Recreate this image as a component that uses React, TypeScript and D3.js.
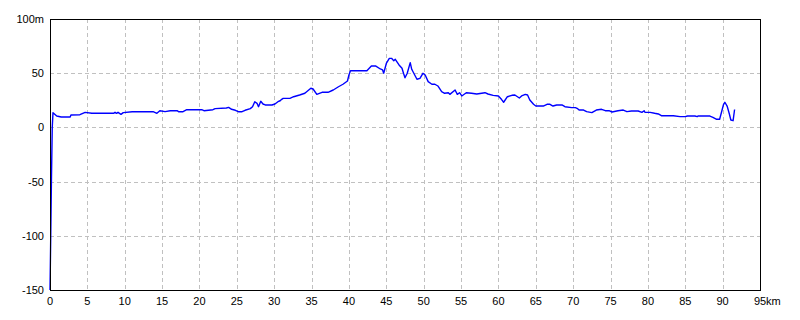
import React from "react";
import * as d3 from "d3";

const kmValues: number[] = [
  0, 0.1, 0.2, 0.3, 0.4, 0.9, 1.5, 2.7, 2.8, 4.0, 4.7, 5.6, 8.5, 8.7, 8.9, 9.1, 9.5, 9.8, 11.0, 13.8,
  14.3, 14.7, 15.4, 16.1, 17.0, 17.2, 17.8, 18.3, 20.3, 20.6, 21.8, 22.1, 23.6, 23.9, 24.3, 24.8, 25.2,
  25.7, 26.1, 26.8, 27.1, 27.4, 27.7, 27.9, 28.2, 28.5, 28.8, 29.7, 30.1, 30.5, 30.8, 31.0, 31.2, 32.1,
  32.6, 33.4, 34.1, 34.9, 35.2, 35.7, 36.4, 37.2, 37.9, 38.6, 39.2, 39.8, 40.0, 40.2, 42.4, 43.0, 43.6,
  44.2, 44.5, 44.65, 45.0, 45.4, 45.7, 46.0, 46.2, 46.7, 47.1, 47.3, 47.5, 47.8, 48.2, 48.4, 49.1, 49.5,
  49.9, 50.2, 50.6, 51.1, 51.5, 51.9, 52.4, 52.8, 53.3, 53.5, 54.2, 54.5, 54.8, 55.1, 55.7, 56.4, 57.1,
  58.2, 58.6, 59.3, 60.0, 60.4, 60.7, 61.2, 61.8, 62.2, 62.8, 63.1, 63.6, 63.9, 64.2, 64.7, 65.0, 66.0,
  66.5, 66.9, 67.3, 67.8, 68.5, 68.9, 69.8, 70.3, 70.6, 70.8, 71.4, 71.8, 72.5, 73.1, 73.8, 74.3, 74.8,
  75.2, 76.0, 76.7, 77.2, 77.8, 78.7, 79.2, 79.5, 79.6, 80.3, 80.9, 81.4, 81.8, 83.4, 84.3, 85.0, 85.3,
  86.3, 86.6, 86.7, 88.3, 88.7, 89.2, 89.6, 89.9, 90.1, 90.3, 90.6, 90.9, 91.1, 91.4, 91.6,
];

const elevationValues: number[] = [
  -150, -100, -45, 0, 13.6, 10.5, 9.6, 9.6, 11.4, 11.7, 13.9, 13, 13, 13.9, 13, 13.9, 12, 13.6, 14.5, 14.5,
  13, 15.4, 14.6, 15.4, 15.4, 14.5, 14.5, 16.3, 16.3, 15.4, 16.3, 17.3, 17.9, 18.5, 16.7, 15.8, 14.5,
  14.5, 15.8, 17.3, 19.1, 23.7, 22.2, 19.1, 24.1, 21.6, 20.7, 20.7, 21.6, 23.7, 24.6, 25.9, 26.8, 26.8,
  28.3, 29.9, 31.5, 36.1, 35.4, 30.5, 32.4, 32.4, 34.5, 37.5, 39.8, 42.8, 48.3, 52.3, 52.3, 56.6, 56.6,
  53.9, 53, 50, 59, 63.7, 63.7, 61.5, 62.8, 57.6, 54.5, 49.9, 45.8, 49.9, 59.7, 53.6, 44.4, 45.3,
  49.9, 48.3, 42.2, 39.8, 39.8, 38.2, 32.9, 31.5, 32.0, 30.5, 34.5, 30.5, 32, 29, 32, 31.5, 30.8,
  32, 30.8, 29.5, 29, 25.9, 23.2, 28.3, 29.6, 29.9, 27.1, 29, 30.5, 29.9, 25.3, 21.3, 19.7, 19.7,
  21.3, 21.3, 19.7, 20.7, 20.7, 19.1, 18.2, 18.2, 17.3, 16, 16, 14.5, 13.6, 16, 16.7, 15.4, 15.4,
  14.2, 15.4, 16, 14.5, 15.1, 15.1, 13.9, 15.4, 13.9, 13.9, 13, 12.4, 10.8, 10.8, 9.9, 9.9, 10.5,
  10.5, 9.9, 10.5, 10.5, 9.3, 7.5, 7.5, 15.4, 20.7, 23.2, 19.7, 12.4, 6.8, 6.2, 16.5,
];

const xTicks: number[] = [0, 5, 10, 15, 20, 25, 30, 35, 40, 45, 50, 55, 60, 65, 70, 75, 80, 85, 90, 95];
const yTicks: number[] = [-150, -100, -50, 0, 50, 100];
const xUnit = "km";
const yUnit = "m";

export default function App() {
  const left = 50;
  const right = 760;
  const top = 19;
  const bottom = 290;
  const x = d3.scaleLinear().domain([0, 95]).range([left, right]);
  const y = d3.scaleLinear().domain([-150, 100]).range([bottom, top]);

  const pts: [number, number][] = kmValues.map((k, i) => [k, elevationValues[i]]);
  const line = d3
    .line<[number, number]>()
    .x((d) => x(d[0]))
    .y((d) => y(d[1]));

  const font = "'Liberation Sans', Arial, sans-serif";
  const crisp = (v: number) => Math.round(v) + 0.5;

  return (
    <div style={{ position: "fixed", left: 0, top: 0 }}>
      <svg width={800} height={320} style={{ display: "block", background: "#fff" }}>
        <rect x={0} y={0} width={800} height={320} fill="#fff" />
        {xTicks
          .filter((t) => t > 0 && t < 95)
          .map((t) => (
            <line
              key={"gx" + t}
              x1={crisp(x(t))}
              x2={crisp(x(t))}
              y1={top}
              y2={bottom}
              stroke="#c0c0c0"
              strokeWidth={1}
              strokeDasharray="4,3"
              shapeRendering="crispEdges"
            />
          ))}
        {yTicks
          .filter((t) => t > -150 && t < 100)
          .map((t) => (
            <line
              key={"gy" + t}
              x1={left}
              x2={right}
              y1={crisp(y(t))}
              y2={crisp(y(t))}
              stroke="#c0c0c0"
              strokeWidth={1}
              strokeDasharray="4,3"
              shapeRendering="crispEdges"
            />
          ))}
        <path
          d={line(pts) || ""}
          fill="none"
          stroke="#0000ff"
          strokeWidth={1.4}
          strokeLinejoin="round"
        />
        <rect
          x={left + 0.5}
          y={top + 0.5}
          width={right - left}
          height={bottom - top}
          fill="none"
          stroke="#000"
          strokeWidth={1}
          shapeRendering="crispEdges"
        />
        <line x1={left + 0.5} x2={left + 0.5} y1={top} y2={bottom + 1} stroke="#000" strokeWidth={1.5} shapeRendering="crispEdges" />
        <line x1={left} x2={right + 1} y1={bottom + 0.5} y2={bottom + 0.5} stroke="#000" strokeWidth={1.5} shapeRendering="crispEdges" />
        {yTicks.map((t) => (
          <text
            key={"ty" + t}
            x={44}
            y={y(t) + 4}
            textAnchor="end"
            fontFamily={font}
            fontSize={11}
            fill="#000"
          >
            {t === 100 ? `${t}${yUnit}` : t < 0 ? `-${Math.abs(t)}` : `${t}`}
          </text>
        ))}
        {xTicks.map((t) =>
          t === 95 ? (
            <g key={"tx" + t}>
              <text x={x(t)} y={305} textAnchor="middle" fontFamily={font} fontSize={11} fill="#000">
                {t}
              </text>
              <text x={x(t) + 6} y={305} textAnchor="start" fontFamily={font} fontSize={11} fill="#000">
                {xUnit}
              </text>
            </g>
          ) : (
            <text key={"tx" + t} x={x(t)} y={305} textAnchor="middle" fontFamily={font} fontSize={11} fill="#000">
              {t}
            </text>
          )
        )}
      </svg>
    </div>
  );
}
